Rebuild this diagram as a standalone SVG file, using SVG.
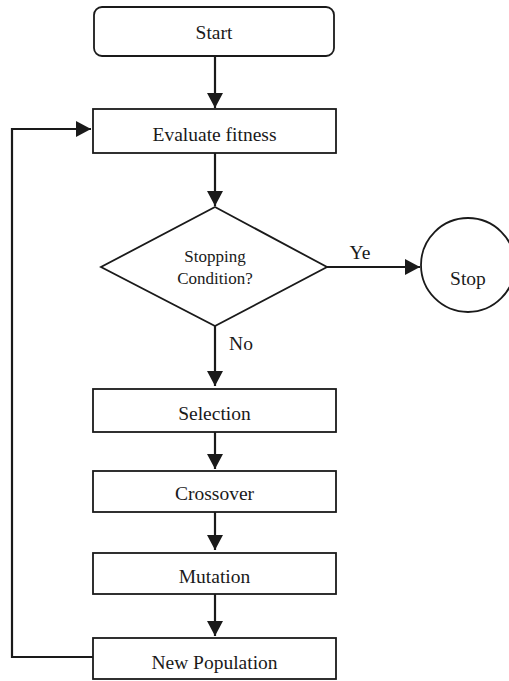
<svg xmlns="http://www.w3.org/2000/svg" width="509" height="681" viewBox="0 0 509 681" font-family="'Liberation Serif', 'Times New Roman', 'DejaVu Serif', serif">
<style>
.box{fill:#fff;stroke:#1a1a1a;stroke-width:1.8}
.ln{fill:none;stroke:#1a1a1a;stroke-width:2.2}
.t{font-size:19.5px;fill:#1a1a1a;text-anchor:middle}
.s{font-size:17px}
</style>
<defs>
<marker id="ah" markerUnits="userSpaceOnUse" markerWidth="16" markerHeight="16" refX="15" refY="8" orient="auto">
<path d="M0,0 L15,8 L0,16 z" fill="#1a1a1a"/>
</marker>
</defs>
<rect width="509" height="681" fill="#fff"/>
<g id="connectors">
<line class="ln" x1="215" y1="56" x2="215" y2="108" marker-end="url(#ah)"/>
<line class="ln" x1="215" y1="153" x2="215" y2="206" marker-end="url(#ah)"/>
<line class="ln" x1="327" y1="267" x2="420" y2="267" marker-end="url(#ah)"/>
<line class="ln" x1="215" y1="326" x2="215" y2="386" marker-end="url(#ah)"/>
<line class="ln" x1="215" y1="432" x2="215" y2="469" marker-end="url(#ah)"/>
<line class="ln" x1="215" y1="512" x2="215" y2="550" marker-end="url(#ah)"/>
<line class="ln" x1="215" y1="594" x2="215" y2="636" marker-end="url(#ah)"/>
<polyline class="ln" points="93,657 12,657 12,129 91,129" marker-end="url(#ah)"/>
<text class="t" x="360" y="259">Ye</text>
<text class="t" x="241" y="350">No</text>
</g>
<g id="start">
<rect class="box" x="94" y="7" width="240" height="49" rx="8"/>
<text class="t" x="214" y="39">Start</text>
</g>
<g id="evaluate">
<rect class="box" x="93" y="109" width="243" height="44"/>
<text class="t" x="214.5" y="141">Evaluate fitness</text>
</g>
<g id="decision">
<polygon class="box" points="215,207 327,267 215,326 101,267"/>
<text class="t s" x="215" y="262">Stopping</text>
<text class="t s" x="215" y="284">Condition?</text>
</g>
<g id="stop">
<circle class="box" cx="468" cy="265" r="47" stroke-width="1.5"/>
<text class="t" x="468" y="285">Stop</text>
</g>
<g id="selection">
<rect class="box" x="93" y="389" width="243" height="43"/>
<text class="t" x="214.5" y="420">Selection</text>
</g>
<g id="crossover">
<rect class="box" x="93" y="471" width="243" height="41"/>
<text class="t" x="214.5" y="500">Crossover</text>
</g>
<g id="mutation">
<rect class="box" x="93" y="553" width="243" height="41"/>
<text class="t" x="214.5" y="583">Mutation</text>
</g>
<g id="newpop">
<rect class="box" x="93" y="638" width="243" height="41"/>
<text class="t" x="214.5" y="669">New Population</text>
</g>
</svg>
